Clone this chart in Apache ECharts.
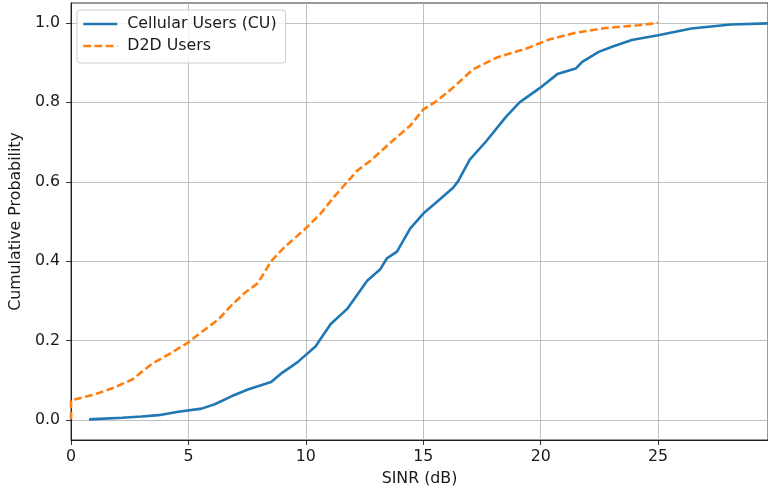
<!DOCTYPE html>
<html>
<head>
<meta charset="utf-8">
<script src="https://cdn.jsdelivr.net/npm/echarts@6/dist/echarts.min.js"></script>
<style>html,body{margin:0;padding:0;background:#fff}#c{width:768px;height:494px}</style>
</head>
<body>
<div id="c"></div>
<script>
var seriesNames = ['Cellular Users (CU)', 'D2D Users'];
var xTickLabels = [0, 5, 10, 15, 20, 25];
var yTickLabels = [0.0, 0.2, 0.4, 0.6, 0.8, 1.0];
var cuX = [0.77, 2.18, 3.0, 3.73, 4.57, 5.56, 6.12, 6.83, 7.53, 8.52, 8.94, 9.65, 10.42, 10.63, 11.06, 11.76, 12.61, 13.17, 13.45, 13.88, 14.44, 15.0, 15.71, 16.27, 16.48, 16.98, 17.68, 18.53, 19.1, 19.94, 20.71, 21.49, 21.77, 22.47, 23.04, 23.88, 25.0, 26.42, 28.1, 29.9];
var cuY = [0.002, 0.006, 0.009, 0.0125, 0.021, 0.029, 0.04, 0.06, 0.077, 0.096, 0.117, 0.146, 0.186, 0.205, 0.242, 0.28, 0.351, 0.38, 0.407, 0.424, 0.482, 0.52, 0.556, 0.585, 0.601, 0.656, 0.702, 0.764, 0.8, 0.835, 0.871, 0.885, 0.902, 0.927, 0.94, 0.957, 0.969, 0.986, 0.996, 0.999];
var d2dX = [0, 0, 0.91, 1.75, 2.6, 3.45, 4.29, 5.0, 5.56, 6.27, 6.83, 7.39, 7.96, 8.52, 9.08, 9.93, 10.63, 11.2, 12.19, 12.75, 13.73, 14.44, 15.0, 15.57, 16.27, 17.12, 18.1, 19.37, 20.36, 21.49, 22.76, 24.16, 25.0];
var d2dY = [0.002, 0.05, 0.063, 0.08, 0.102, 0.142, 0.17, 0.196, 0.222, 0.253, 0.289, 0.32, 0.345, 0.40, 0.435, 0.479, 0.52, 0.562, 0.628, 0.653, 0.705, 0.741, 0.782, 0.803, 0.837, 0.883, 0.912, 0.935, 0.958, 0.975, 0.987, 0.994, 1.0];

function zip(a, b) { return a.map(function (v, i) { return [v, b[i]]; }); }
var FONT = 'DejaVu Sans';
var FS = 15.8;
var TXT = '#1a1a1a';
var chart = echarts.init(document.getElementById('c'), null, {renderer: 'canvas'});
chart.setOption({
  animation: false,
  backgroundColor: '#fff',
  grid: {left: 68, right: -2, top: 3, bottom: 54, show: true, borderColor: '#000', borderWidth: 0.8, containLabel: false},
  legend: {
    orient: 'vertical', left: 77, top: 10,
    data: seriesNames,
    itemWidth: 34, itemHeight: 16, itemGap: 6,
    padding: [6, 9, 9, 5],
    backgroundColor: 'rgba(255,255,255,0.8)',
    borderColor: '#cccccc', borderWidth: 1, borderRadius: 3,
    itemStyle: {opacity: 0},
    lineStyle: {width: 2.6},
    textStyle: {fontFamily: FONT, fontSize: FS, color: TXT, padding: [0, 0, 0, 5]}
  },
  xAxis: {
    type: 'value', min: 0, max: 29.68,
    name: 'SINR (dB)', nameLocation: 'middle', nameGap: 31,
    nameTextStyle: {fontFamily: FONT, fontSize: FS, color: TXT},
    axisLine: {show: true, onZero: false, lineStyle: {color: '#000', width: 0.8}},
    axisTick: {show: true, length: 5, inside: false, lineStyle: {color: '#000', width: 0.8}, customValues: xTickLabels},
    axisLabel: {margin: 9, fontFamily: FONT, fontSize: FS, color: TXT, customValues: xTickLabels, formatter: function (v) { return String(v); }},
    splitLine: {show: true, lineStyle: {color: '#b0b0b0', width: 0.8}}
  },
  yAxis: {
    type: 'value', min: -0.05, max: 1.05,
    name: 'Cumulative Probability', nameLocation: 'middle', nameGap: 39,
    nameTextStyle: {fontFamily: FONT, fontSize: FS, color: TXT},
    axisLine: {show: true, onZero: false, lineStyle: {color: '#000', width: 0.8}},
    axisTick: {show: true, length: 5, inside: false, lineStyle: {color: '#000', width: 0.8}, customValues: yTickLabels},
    axisLabel: {margin: 11, fontFamily: FONT, fontSize: FS, color: TXT, customValues: yTickLabels, formatter: function (v) { return v.toFixed(1); }},
    splitLine: {show: true, lineStyle: {color: '#b0b0b0', width: 0.8}}
  },
  series: [
    {name: seriesNames[0], type: 'line', data: zip(cuX, cuY), symbol: 'none', showSymbol: false, clip: true,
     lineStyle: {color: '#1f77b4', width: 2.6}, itemStyle: {color: '#1f77b4'}},
    {name: seriesNames[1], type: 'line', data: zip(d2dX, d2dY), symbol: 'none', showSymbol: false, clip: true,
     lineStyle: {color: '#ff7f0e', width: 2.6, type: [7.7, 3.5]}, itemStyle: {color: '#ff7f0e'}}
  ]
});
</script>
</body>
</html>
